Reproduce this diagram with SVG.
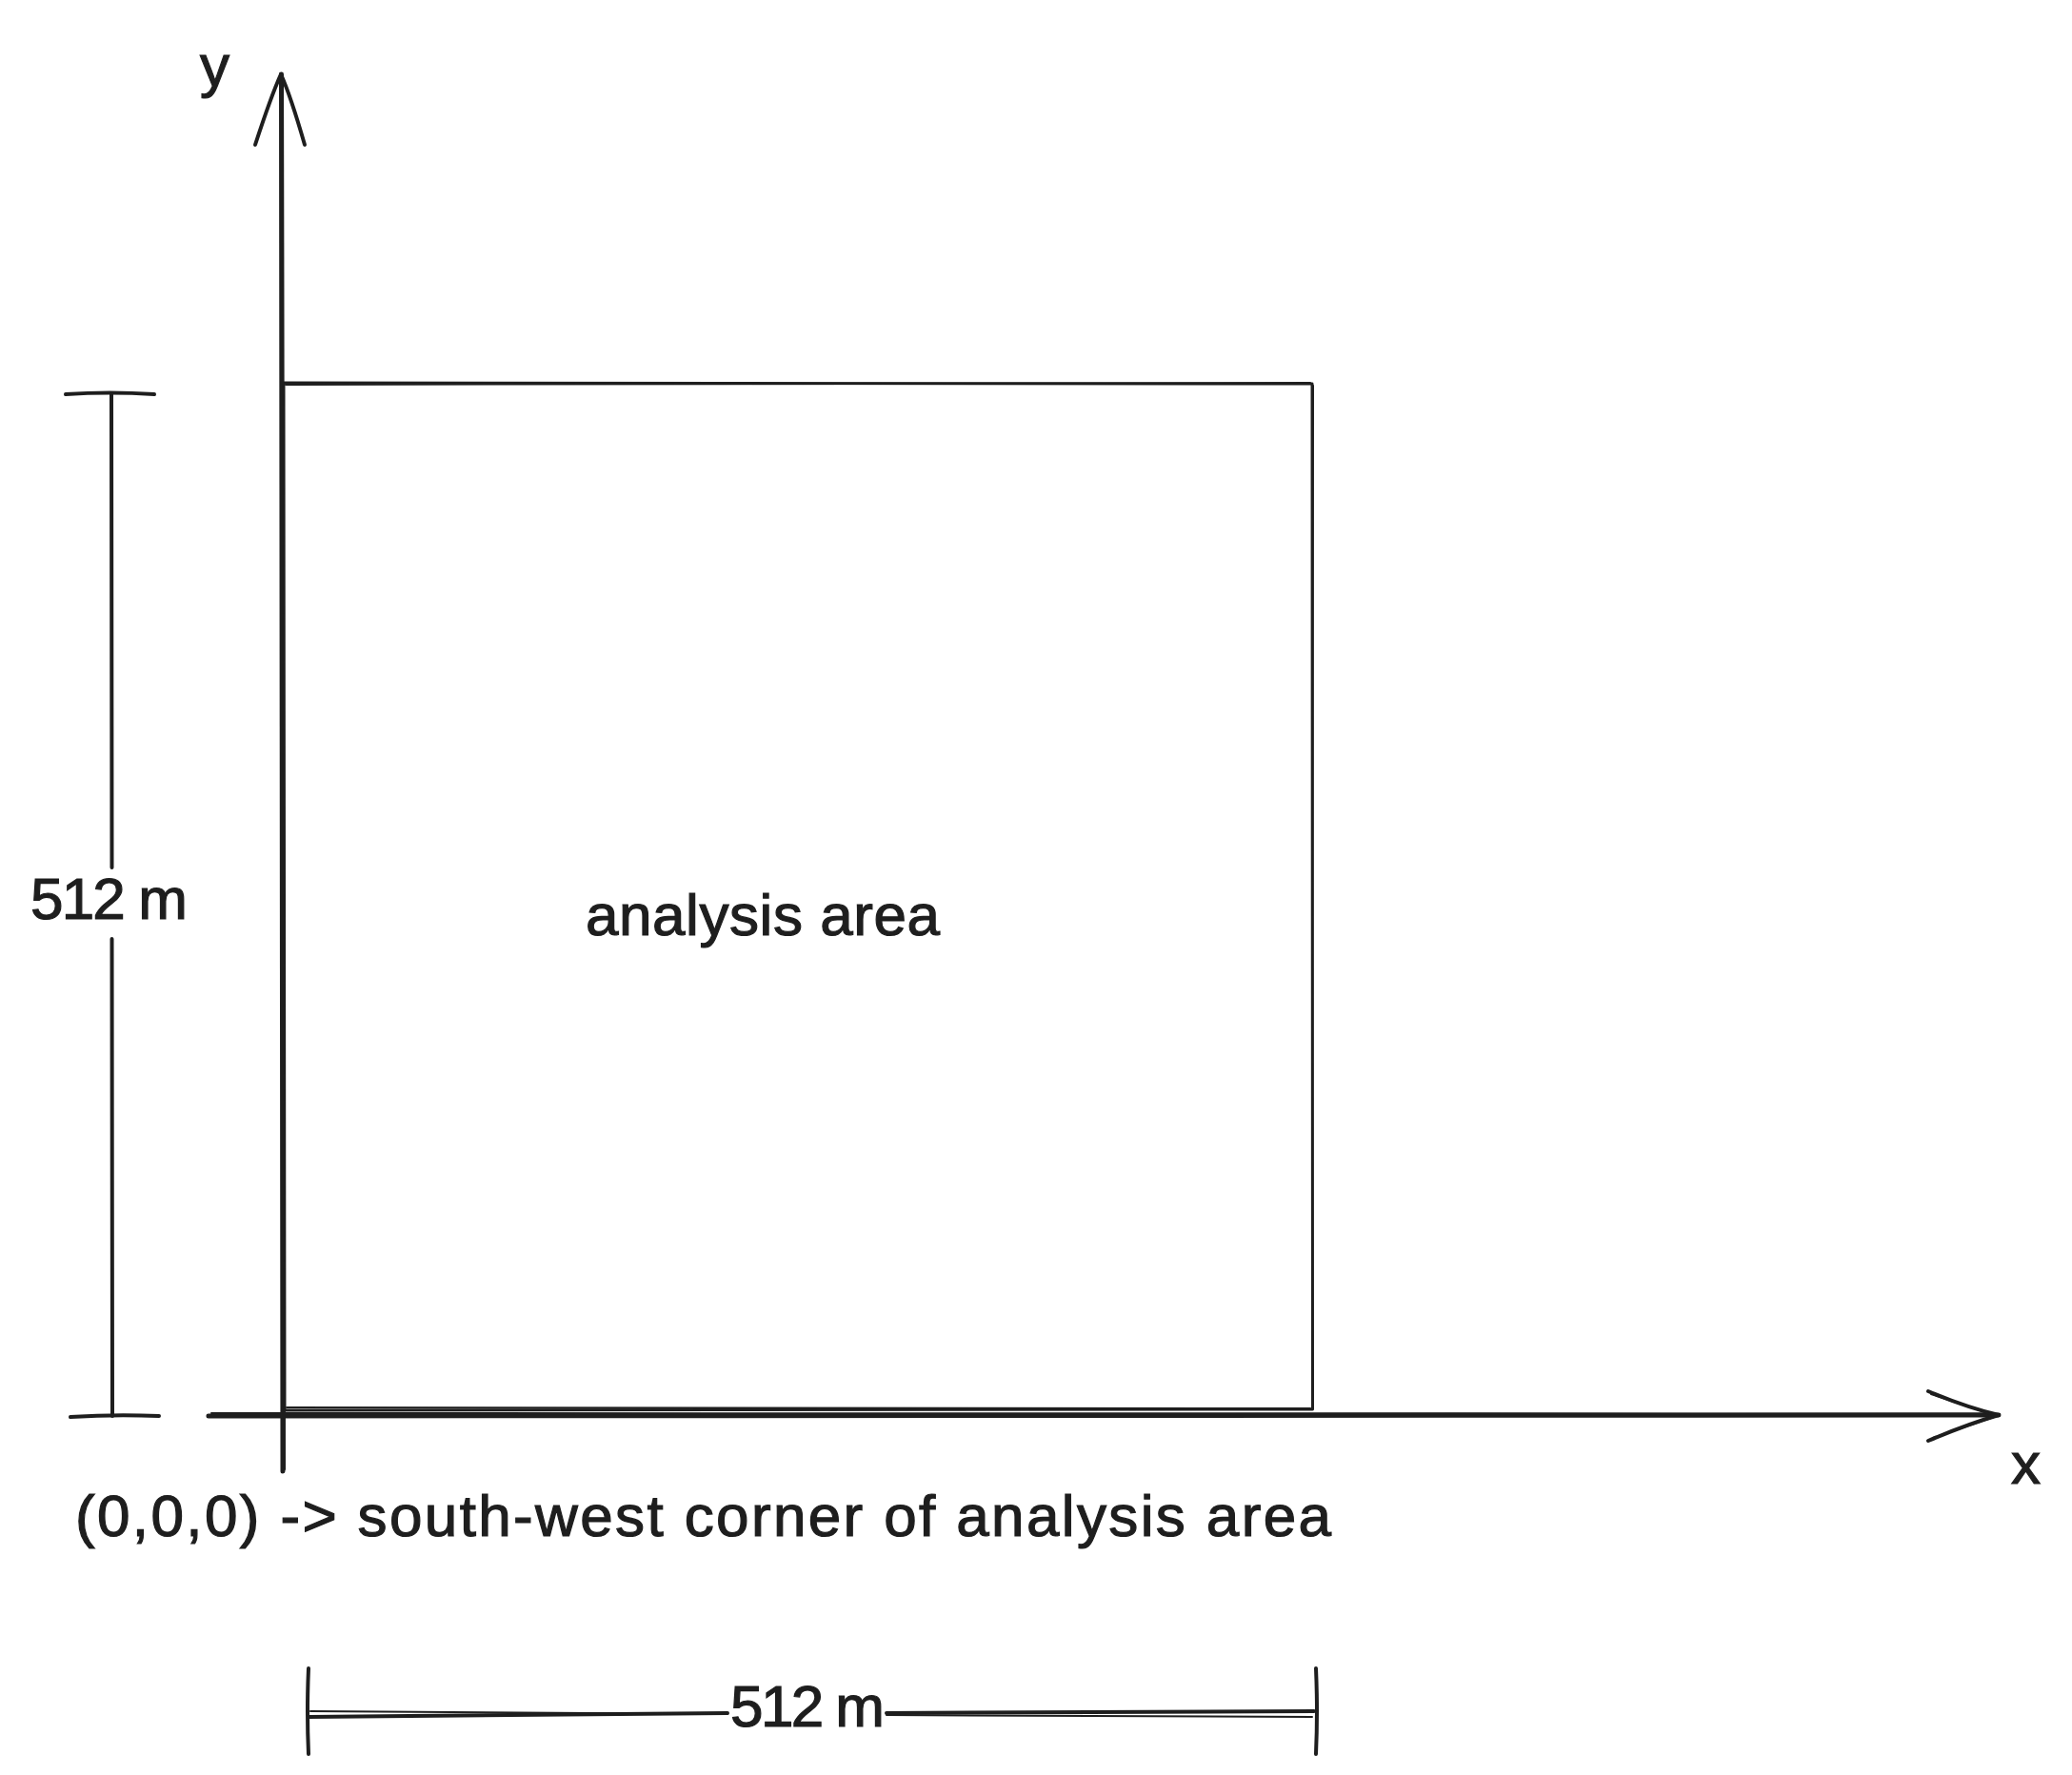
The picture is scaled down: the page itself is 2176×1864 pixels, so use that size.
<svg xmlns="http://www.w3.org/2000/svg" width="2176" height="1864" viewBox="0 0 2176 1864">
  <style>
    .ln { fill: none; stroke: #1e1e1e; stroke-linecap: round; stroke-linejoin: round; }
    .thick { stroke-width: 5; }
    .mid { stroke-width: 4; }
    .thin { stroke-width: 2; }
    .box { stroke-width: 3; }
    .lbl { font-family: "Liberation Sans", Arial, sans-serif; font-size: 62px; fill: #1e1e1e; stroke: #1e1e1e; stroke-width: 1.2; }
  </style>
  <rect width="2176" height="1864" fill="#ffffff"/>

  <g id="analysis-area">
    <path class="ln box" d="M298 402 L1378 403 L1378.5 1480 L299 1481 Z"/>
    <path class="ln thin" d="M300 404 L1376 402 M1379 405 L1378 1478 M1376 1479 L301 1478"/>
    <text class="lbl" x="615" y="982" textLength="372">analysis area</text>
  </g>

  <g id="connectors">
    <g id="y-axis">
      <path class="ln thick" d="M297 1545 L295.5 78"/>
      <path class="ln thin" d="M299 1543 L297 82"/>
      <path class="ln mid" d="M268 152 Q285 100 295 78 Q305 100 320 152"/>
    </g>
    <g id="x-axis">
      <path class="ln thick" d="M219 1487 L2099 1486"/>
      <path class="ln thin" d="M222 1484 L2095 1484.5"/>
      <path class="ln mid" d="M2025 1461 Q2065 1478 2099 1486 Q2065 1496 2025 1513"/>
      <path class="ln thin" d="M2028 1464 L2097 1487 L2030 1510"/>
    </g>
    <g id="dim-left">
      <path class="ln mid" d="M117 413 L117.5 911 M117.5 986 L118 1487"/>
      <path class="ln mid" d="M69 414 Q115 411 162 414 M74 1488 Q120 1485 167 1487"/>
    </g>
    <g id="dim-bottom">
      <path class="ln mid" d="M324 1752 Q322 1797 324 1842 M1382 1752 Q1384 1797 1382 1842"/>
      <path class="ln mid" d="M324 1803 L764 1799 M931 1799 L1380 1797"/>
      <path class="ln thin" d="M326 1797 L764 1800 M931 1801 L1378 1803"/>
    </g>
  </g>

  <g id="labels">
    <text class="lbl" x="210" y="90">y</text>
    <text class="lbl" x="2112" y="1558">x</text>
    <text class="lbl" x="32" y="965" textLength="165">512 m</text>
    <text class="lbl" x="767" y="1813" textLength="162">512 m</text>
    <text class="lbl" x="79" y="1613" textLength="1319">(0,0,0) -&gt; south-west corner of analysis area</text>
  </g>
</svg>
